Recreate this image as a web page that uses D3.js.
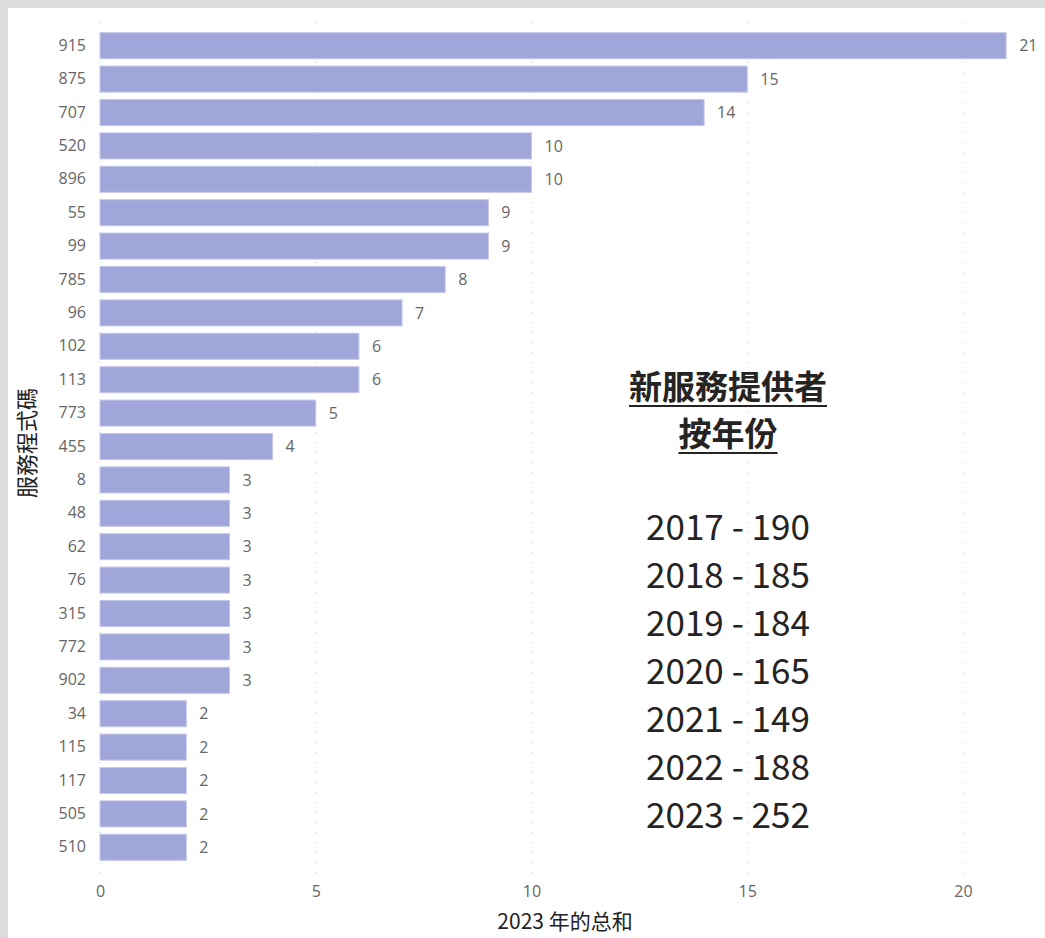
<!DOCTYPE html>
<html><head><meta charset="utf-8">
<script src="https://cdn.jsdelivr.net/npm/d3@7"></script>
<style>
html,body{margin:0;padding:0;background:#fff;}
svg{display:block;}
</style></head>
<body>
<script>
const categories = ["915","875","707","520","896","55","99","785","96","102","113","773","455","8","48","62","76","315","772","902","34","115","117","505","510"];
const values = [21,15,14,10,10,9,9,8,7,6,6,5,4,3,3,3,3,3,3,3,2,2,2,2,2];
const xTicks = [0,5,10,15,20];
const titleLines = ["新服務提供者","按年份"];
const yearLabels = ["2017","2018","2019","2020","2021","2022","2023"];
const yearCounts = [190,185,184,165,149,188,252];
const xTitle = "2023 年的总和";
const yTitle = "服務程式碼";

const W = 1045, H = 938;
const svg = d3.select("body").append("svg").attr("width", W).attr("height", H);
svg.append("rect").attr("width", W).attr("height", H).attr("fill", "#dcdcdc");
svg.append("rect").attr("x", 8).attr("y", 8).attr("width", W - 8).attr("height", H - 8).attr("fill", "#fff");

const x = d3.scaleLinear().domain([0, 20]).range([100, 963]);
const y = d3.scaleBand().domain(categories).range([29, 864]).paddingInner(0.22).paddingOuter(0.11);

const font = "'Open Sans','Segoe UI','Noto Sans',sans-serif";

// gridlines
svg.append("g").selectAll("line").data(xTicks).join("line")
  .attr("x1", d => x(d)).attr("x2", d => x(d))
  .attr("y1", 22).attr("y2", 876)
  .attr("stroke", "#c8c8c8").attr("stroke-width", 1)
  .attr("stroke-dasharray", "1,9");

// bars
svg.append("g").selectAll("rect").data(values).join("rect")
  .attr("x", x(0))
  .attr("y", (d, i) => y(categories[i]))
  .attr("width", d => x(d) - x(0))
  .attr("height", y.bandwidth())
  .attr("fill", "#a0a6d9")
  .attr("stroke", "#c4c8ea").attr("stroke-width", 1);

// value labels
svg.append("g").selectAll("text").data(values).join("text")
  .attr("x", d => x(d) + 13)
  .attr("y", (d, i) => y(categories[i]) + y.bandwidth() / 2)
  .attr("dy", "0.35em")
  .attr("font-family", font).attr("font-size", 16).attr("fill", "#666")
  .text(d => d);

// y axis
const yAxis = d3.axisLeft(y).tickSize(0).tickPadding(14);
const gy = svg.append("g").attr("transform", `translate(${x(0)},0)`).call(yAxis);
gy.select(".domain").remove();
gy.selectAll("text").attr("font-family", font).attr("font-size", 16).attr("fill", "#666");

// x axis
const xAxis = d3.axisBottom(x).tickValues(xTicks).tickSize(0).tickPadding(0);
const gx = svg.append("g").attr("transform", `translate(0,${886})`).call(xAxis);
gx.select(".domain").remove();
gx.selectAll("text").attr("font-family", font).attr("font-size", 16).attr("fill", "#666");

// axis titles
svg.append("text").attr("x", 565).attr("y", 929).attr("text-anchor", "middle")
  .attr("font-family", "'Noto Sans CJK SC',sans-serif").attr("font-size", 21).attr("fill", "#222")
  .text(xTitle);
svg.append("text").attr("transform", "translate(35,443) rotate(-90)").attr("text-anchor", "middle")
  .attr("font-family", "'Noto Sans CJK TC',sans-serif").attr("font-size", 22).attr("fill", "#222")
  .text(yTitle);

// annotation title
const cx = 728;
const baseY = [399, 446];
titleLines.forEach((t, i) => {
  const tx = svg.append("text").attr("x", cx).attr("y", baseY[i]).attr("text-anchor", "middle")
    .attr("font-family", "'Noto Sans CJK TC',sans-serif").attr("font-size", 33).attr("font-weight", "bold")
    .attr("fill", "#252423").text(t);
  const w = tx.node().getComputedTextLength();
  svg.append("line").attr("x1", cx - w / 2).attr("x2", cx + w / 2)
    .attr("y1", baseY[i] + 7).attr("y2", baseY[i] + 7)
    .attr("stroke", "#252423").attr("stroke-width", 2);
});

// year list
svg.append("g").selectAll("text").data(yearLabels).join("text")
  .attr("x", cx).attr("y", (d, i) => 540 + i * 48).attr("text-anchor", "middle")
  .attr("font-family", "'Noto Sans CJK SC',sans-serif").attr("font-size", 35).attr("fill", "#252423")
  .text((d, i) => `${d} - ${yearCounts[i]}`);
</script>
</body></html>
